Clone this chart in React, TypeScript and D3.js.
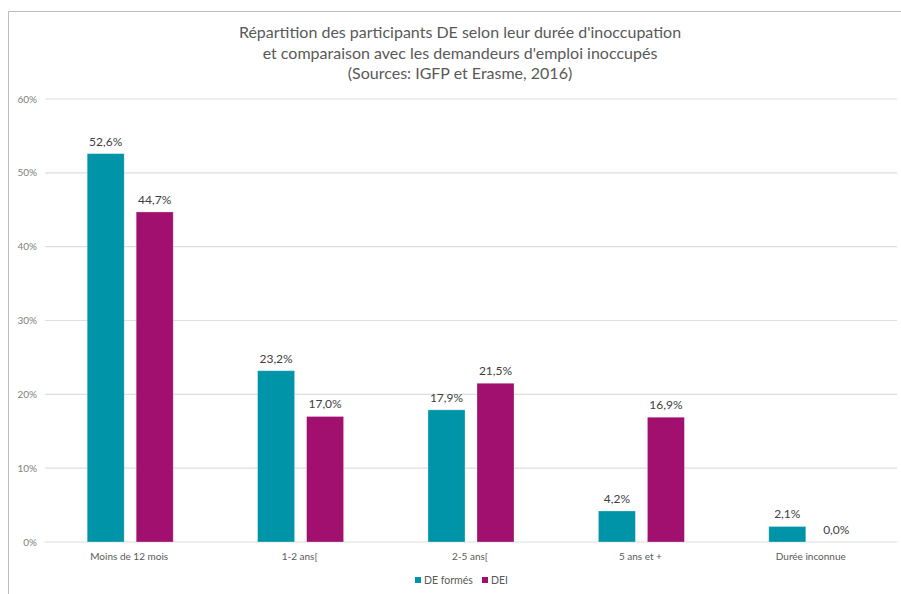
import React from 'react';
import * as d3 from 'd3';

const categories = ['Moins de 12 mois', '1-2 ans[', '2-5 ans[', '5 ans et +', 'Durée inconnue'];
const seriesNames = ['DE formés', 'DEI'];
const deFormes = [52.6, 23.2, 17.9, 4.2, 2.1];
const dei = [44.7, 17.0, 21.5, 16.9, 0.0];
const yTicks = [0, 10, 20, 30, 40, 50, 60];
const colors = ['#0094A9', '#A10F6F'];
const titleLines = [
  "Répartition des participants DE selon leur durée d'inoccupation",
  "et comparaison avec les demandeurs d'emploi inoccupés",
  '(Sources: IGFP et Erasme, 2016)',
];

const W = 901;
const H = 594;
const font = 'Lato, "Open Sans", sans-serif';

export default function App() {
  const left = 45;
  const right = 897;
  const top = 99;
  const bottom = 542;

  const x = d3.scaleBand().domain(categories).range([left, right]);
  const sub = d3.scaleBand().domain(seriesNames).range([0, 86]).paddingInner(0.245);
  const y = d3.scaleLinear().domain([0, 60]).range([bottom, top]);
  const fmt = (v: number) => v.toFixed(1).replace('.', ',') + '%';
  const series = [deFormes, dei];

  return (
    <svg width={W} height={H} style={{ position: 'absolute', left: 0, top: 0, background: '#fff' }}>
      <path d={`M8.5,${H} L8.5,11.5 L${W},11.5`} fill="none" stroke="#BDBDBD" strokeWidth={1} />
      {titleLines.map((t, i) => (
        <text key={i} x={460} y={38 + i * 20.5} textAnchor="middle" fontFamily={font} fontSize={16} fill="#595959">
          {t}
        </text>
      ))}
      {yTicks.map((t) => (
        <g key={t}>
          <line x1={left} x2={right} y1={y(t)} y2={y(t)} stroke="#DEDEDE" strokeWidth={1.2} />
          <text x={37} y={y(t) + 3.5} textAnchor="end" fontFamily={font} fontSize={10} fill="#7F7F7F">
            {t}%
          </text>
        </g>
      ))}
      {categories.map((c, ci) => {
        const cx = (x(c) as number) + x.bandwidth() / 2;
        const gx = cx - 43;
        return (
          <g key={c}>
            {series.map((s, si) => {
              const bx = gx + (sub(seriesNames[si]) as number);
              const v = s[ci];
              return (
                <g key={si}>
                  {v > 0 && (
                    <rect x={bx} y={y(v)} width={sub.bandwidth()} height={bottom - y(v)} fill={colors[si]} stroke="#ffffff" strokeOpacity={0.35} strokeWidth={0.8} />
                  )}
                  <text x={bx + sub.bandwidth() / 2} y={y(v) - 8} textAnchor="middle" fontFamily={font} fontSize={12} fill="#404040">
                    {fmt(v)}
                  </text>
                </g>
              );
            })}
            <text x={cx - 1} y={560} textAnchor="middle" fontFamily={font} fontSize={10} fill="#595959">
              {c}
            </text>
          </g>
        );
      })}
      <g fontFamily={font} fontSize={10.5} fill="#595959">
        <rect x={415} y={577} width={6} height={6} fill={colors[0]} />
        <text x={424} y={583.5}>{seriesNames[0]}</text>
        <rect x={482} y={577} width={6} height={6} fill={colors[1]} />
        <text x={491} y={583.5}>{seriesNames[1]}</text>
      </g>
    </svg>
  );
}
